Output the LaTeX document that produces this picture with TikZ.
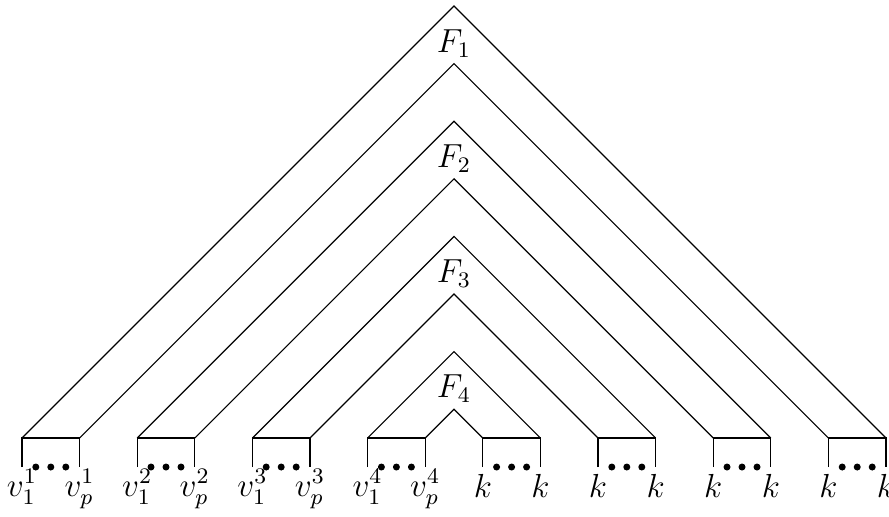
\documentclass[tikz,border=0pt]{standalone}
\begin{document}
\begin{tikzpicture}[x=0.36pt,y=-0.36pt,line width=0.42pt,
  lbl/.style={anchor=base,inner sep=0pt,font=\fontsize{11.5}{13}\selectfont},
  dotc/.style={fill=black}]
\useasboundingbox (0,0) rectangle (889,516);
\def\u{57.6}
% top points, bottom points
\foreach \n in {0,...,15}{
  \coordinate (p\n) at ({22+\n*\u},438);
  \coordinate (b\n) at ({22+\n*\u},467);
}
% apexes
\foreach \j in {0,...,7}{
  \coordinate (a\j) at (454,{6+\j*\u});
}
% chevrons
\foreach \j in {0,...,7}{
  \pgfmathtruncatemacro{\r}{15-\j}
  \draw (p\j) -- (a\j) -- (p\r);
}
% boxes and dots
\foreach \i in {0,...,7}{
  \pgfmathtruncatemacro{\l}{2*\i}
  \pgfmathtruncatemacro{\rr}{2*\i+1}
  \draw (b\l) -- (p\l) -- (p\rr) -- (b\rr);
  \foreach \d in {-15,0,15}{
    \fill[dotc] ({22+(2*\i+0.5)*\u+\d},467) circle[radius=3.5];
  }
}
% labels
\foreach \i in {0,...,3}{
  \pgfmathtruncatemacro{\l}{2*\i}
  \pgfmathtruncatemacro{\rr}{2*\i+1}
  \pgfmathtruncatemacro{\s}{\i+1}
  \node[lbl] (lv\l) at ({22+\l*\u},496) {$v_1^{\s}$};
  \node[lbl] (lv\rr) at ({22+\rr*\u},496) {$v_p^{\s}$};
}
\foreach \n in {8,...,15}{
  \node[lbl] (lk\n) at ({22+\n*\u},497) {$k$};
}
\foreach \k in {1,...,4}{
  \node[lbl] (F\k) at (454,{52+115.2*(\k-1)}) {$F_{\k}$};
}
\end{tikzpicture}
\end{document}
